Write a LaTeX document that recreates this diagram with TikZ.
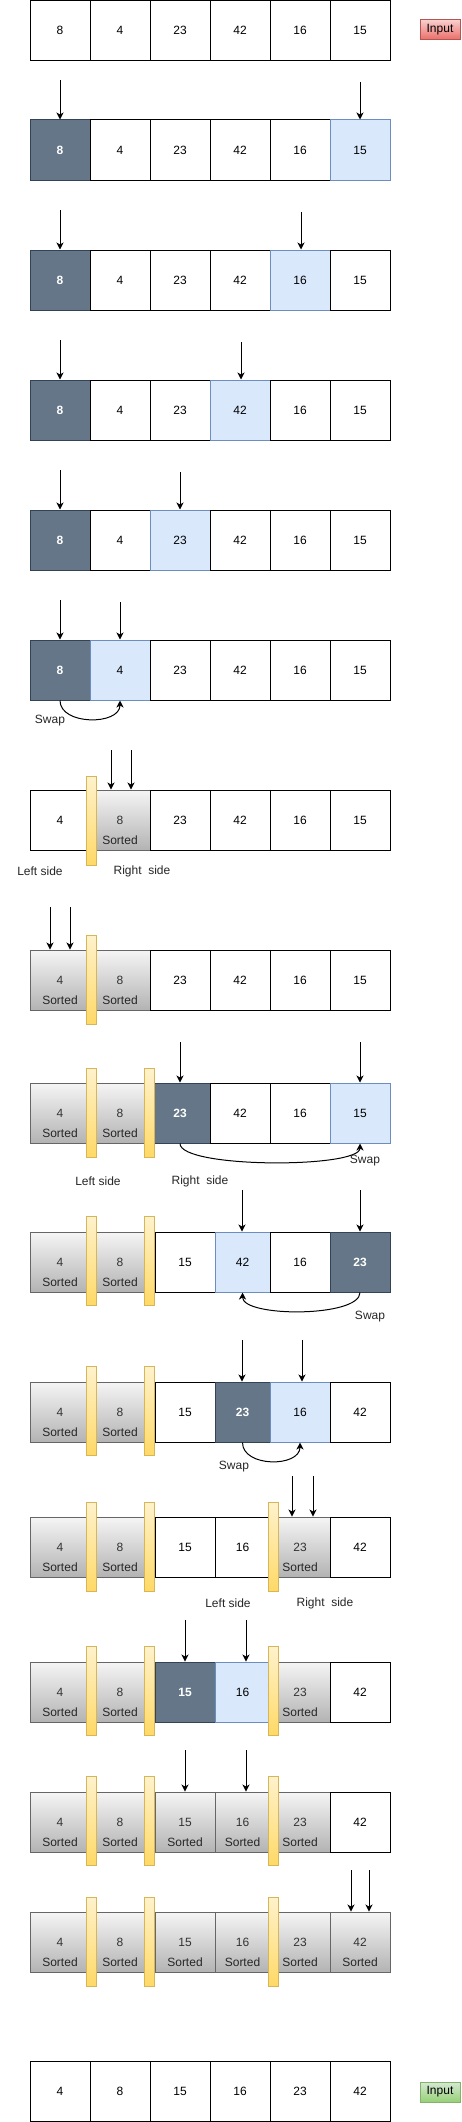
\documentclass[tikz,border=0pt]{standalone}
\usepackage{fontspec}
\setmainfont{Liberation Sans}
\usetikzlibrary{arrows.meta}

\definecolor{curfill}{HTML}{647687}
\definecolor{curline}{HTML}{314354}
\definecolor{cmpfill}{HTML}{DAE8FC}
\definecolor{cmpline}{HTML}{6C8EBF}
\definecolor{donetop}{HTML}{F5F5F5}
\definecolor{donebot}{HTML}{B3B3B3}
\definecolor{doneline}{HTML}{666666}
\definecolor{bartop}{HTML}{FFF2CC}
\definecolor{barbot}{HTML}{FFD966}
\definecolor{barline}{HTML}{D6B656}
\definecolor{redtop}{HTML}{F8CECC}
\definecolor{redbot}{HTML}{EA6B66}
\definecolor{redline}{HTML}{B85450}
\definecolor{greentop}{HTML}{D5E8D4}
\definecolor{greenbot}{HTML}{97D077}
\definecolor{greenline}{HTML}{82B366}

\tikzset{
	cell/.style={draw, line width=1pt, minimum width=60pt, minimum height=60pt, inner sep=0pt, font=\fontsize{12}{14}\selectfont},
	cur/.style={cell, draw=curline, fill=curfill, text=white, font=\fontsize{12}{14}\selectfont\bfseries},
	cmp/.style={cell, draw=cmpline, fill=cmpfill},
	done/.style={cell, draw=doneline, top color=donetop, bottom color=donebot, text=black!80},
	bar/.style={draw=barline, line width=1pt, top color=bartop, bottom color=barbot, minimum width=10pt, minimum height=89pt, inner sep=0pt},
	btn/.style={line width=1pt, minimum width=40pt, minimum height=20pt, inner sep=0pt, font=\fontsize{12}{14}\selectfont},
	lbl/.style={inner sep=0pt, font=\fontsize{12}{14}\selectfont, text=black!85},
	ptr/.style={-{Stealth[length=7pt,width=7pt,inset=2pt]}, line width=1pt}
}

\begin{document}
\begin{tikzpicture}[x=1pt, y=-1pt]
	\path[use as bounding box, fill=white] (0,0) rectangle (461,2122);

	\foreach \s/\v [count=\i] in {cell/8,cell/4,cell/23,cell/42,cell/16,cell/15}
		\node[\s] (r1c\i) at (\i*60,30.5) {\v};
	\node[btn, draw=redline, top color=redtop, bottom color=redbot] (inA) at (440,30) {Input};

	\foreach \s/\v [count=\i] in {cur/8,cell/4,cell/23,cell/42,cell/16,cmp/15}
		\node[\s] (r2c\i) at (\i*60,150) {\v};
	\foreach \s/\v [count=\i] in {cur/8,cell/4,cell/23,cell/42,cmp/16,cell/15}
		\node[\s] (r3c\i) at (\i*60,280) {\v};
	\foreach \s/\v [count=\i] in {cur/8,cell/4,cell/23,cmp/42,cell/16,cell/15}
		\node[\s] (r4c\i) at (\i*60,410) {\v};
	\foreach \s/\v [count=\i] in {cur/8,cell/4,cmp/23,cell/42,cell/16,cell/15}
		\node[\s] (r5c\i) at (\i*60,540) {\v};
	\foreach \s/\v [count=\i] in {cur/8,cmp/4,cell/23,cell/42,cell/16,cell/15}
		\node[\s] (r6c\i) at (\i*60,670) {\v};
	\foreach \s/\v [count=\i] in {cell/4,done/8,cell/23,cell/42,cell/16,cell/15}
		\node[\s] (r7c\i) at (\i*60,820) {\v};
	\foreach \s/\v [count=\i] in {done/4,done/8,cell/23,cell/42,cell/16,cell/15}
		\node[\s] (r8c\i) at (\i*60,980) {\v};
	\foreach \s/\v [count=\i] in {done/4,done/8,cur/23,cell/42,cell/16,cmp/15}
		\node[\s] (r9c\i) at (\i*60,1113) {\v};

	\foreach \s/\v/\x/\w [count=\i] in {done/4/60/60,done/8/120/60,cell/15/185/60,cmp/42/242.5/55,cell/16/300/60,cur/23/360/60}
		\node[\s, minimum width=\w] (r10c\i) at (\x,1262) {\v};
	\foreach \s/\v/\x/\w [count=\i] in {done/4/60/60,done/8/120/60,cell/15/185/60,cur/23/242.5/55,cmp/16/300/60,cell/42/360/60}
		\node[\s, minimum width=\w] (r11c\i) at (\x,1412) {\v};
	\foreach \s/\v/\x/\w [count=\i] in {done/4/60/60,done/8/120/60,cell/15/185/60,cell/16/242.5/55,done/23/300/60,cell/42/360/60}
		\node[\s, minimum width=\w] (r12c\i) at (\x,1547) {\v};
	\foreach \s/\v/\x/\w [count=\i] in {done/4/60/60,done/8/120/60,cur/15/185/60,cmp/16/242.5/55,done/23/300/60,cell/42/360/60}
		\node[\s, minimum width=\w] (r13c\i) at (\x,1692) {\v};
	\foreach \s/\v/\x/\w [count=\i] in {done/4/60/60,done/8/120/60,done/15/185/60,done/16/242.5/55,done/23/300/60,cell/42/360/60}
		\node[\s, minimum width=\w] (r14c\i) at (\x,1822) {\v};
	\foreach \s/\v/\x/\w [count=\i] in {done/4/60/60,done/8/120/60,done/15/185/60,done/16/242.5/55,done/23/300/60,done/42/360/60}
		\node[\s, minimum width=\w] (r15c\i) at (\x,1942) {\v};

	\foreach \s/\v [count=\i] in {cell/4,cell/8,cell/15,cell/16,cell/23,cell/42}
		\node[\s] (r16c\i) at (\i*60,2091.5) {\v};
	\node[btn, draw=greenline, top color=greentop, bottom color=greenbot] (inB) at (440,2092) {Input};

	\foreach \c in {r7c2,r8c1,r8c2,r9c1,r9c2,r10c1,r10c2,r11c1,r11c2,r12c1,r12c2,r12c5,r13c1,r13c2,r13c5,r14c1,r14c2,r14c3,r14c4,r14c5,r15c1,r15c2,r15c3,r15c4,r15c5,r15c6}
		\node[lbl] (\c s) at ([yshift=-20pt]\c.center) {Sorted};

	\foreach \x/\y [count=\k] in {91.5/821,91.5/980,91.5/1113,149.5/1113,91.5/1261,149.5/1261,91.5/1411,149.5/1411,91.5/1547,149.5/1547,273.5/1547,91.5/1691,149.5/1691,273.5/1691,91.5/1821,149.5/1821,273.5/1821,91.5/1941.5,149.5/1941.5,273.5/1941.5}
		\node[bar] (bar\k) at (\x,\y) {};

	\foreach \x/\y/\c [count=\k] in {60/80/r2c1,360/82/r2c6,60/210/r3c1,301/212/r3c5,60/340/r4c1,241/342/r4c4,60/470/r5c1,180/472/r5c3,60/600/r6c1,120/602/r6c2,111/750/r7c2,131/750/r7c2,50/907/r8c1,70/907/r8c1,180/1042/r9c3,360/1042/r9c6,242/1190/r10c4,360/1190/r10c6,242/1340/r11c4,302/1340/r11c5,292/1476/r12c5,313/1476/r12c5,185/1620/r13c3,246/1620/r13c4,185/1750/r14c3,246/1750/r14c4,351/1870/r15c6,369/1870/r15c6}
	{
		\coordinate (tip\k) at (\x,\y);
		\draw[ptr] (tip\k) -- (tip\k |- \c.north);
	}

	\draw[ptr] (r6c1.south) .. controls +(0,25) and +(0,25) .. (r6c2.south);
	\draw[ptr] (r9c3.south) .. controls +(0,25) and +(0,25) .. (r9c6.south);
	\draw[ptr] (r10c6.south) .. controls +(0,25) and +(0,25) .. (r10c4.south);
	\draw[ptr] (r11c4.south) .. controls +(0,25) and +(0,25) .. (r11c5.south);
	\node[lbl] (swap6) at (50,721) {Swap};
	\node[lbl] (swap9) at (365,1161) {Swap};
	\node[lbl] (swap10) at (370,1317) {Swap};
	\node[lbl] (swap11) at (234,1467) {Swap};

	\node[lbl] (left7) at (40,871) {Left side};
	\node[lbl] (right7) at (142,871) {Right\ \ side};
	\node[lbl] (left9) at (98,1181) {Left side};
	\node[lbl] (right9) at (200,1181) {Right\ \ side};
	\node[lbl] (left12) at (228,1603) {Left side};
	\node[lbl] (right12) at (325,1603) {Right\ \ side};
\end{tikzpicture}
\end{document}
